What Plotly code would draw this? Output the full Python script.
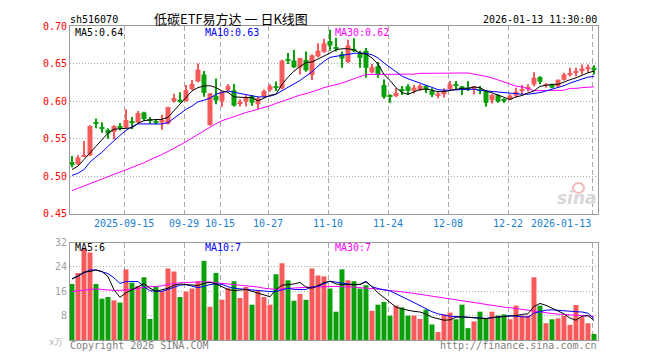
import plotly.graph_objects as go
import pandas as pd

# ---------------- data ----------------
days = pd.bdate_range("2025-09-02", "2026-01-13")
holidays = pd.to_datetime(["2025-10-01", "2025-10-02", "2025-10-03", "2025-10-06",
                           "2025-10-07", "2025-10-08", "2026-01-01", "2026-01-02"])
dates = [d.strftime("%Y-%m-%d") for d in days if d not in holidays]

opens = [0.519, 0.516, 0.527, 0.528, 0.571, 0.565, 0.562, 0.559, 0.567, 0.565,
         0.573, 0.5715, 0.585, 0.5755, 0.573, 0.5715, 0.570, 0.600, 0.602, 0.600,
         0.616, 0.626, 0.6355, 0.568, 0.607, 0.600, 0.615, 0.6145, 0.597, 0.5995,
         0.607, 0.596, 0.6065, 0.615, 0.6195, 0.617, 0.6555, 0.654, 0.645, 0.655,
         0.6346, 0.6595, 0.6655, 0.680, 0.671, 0.6627, 0.6522, 0.6697, 0.664, 0.6671,
         0.6382, 0.6465, 0.6215, 0.607, 0.6066, 0.6154, 0.6197, 0.6136, 0.6154, 0.6206,
         0.6136, 0.6075, 0.6092, 0.6162, 0.6211, 0.6197, 0.618, 0.6158, 0.6149, 0.6136,
         0.6013, 0.6083, 0.6013, 0.6022, 0.6075, 0.6136, 0.6175, 0.6224, 0.632, 0.6206,
         0.6224, 0.6197, 0.6285, 0.6355, 0.6382, 0.6399, 0.6425, 0.6443]
highs = [0.527, 0.528, 0.547, 0.568, 0.577, 0.572, 0.564, 0.568, 0.571, 0.589,
         0.579, 0.587, 0.586, 0.579, 0.576, 0.582, 0.5925, 0.610, 0.612, 0.6215,
         0.628, 0.650, 0.640, 0.611, 0.630, 0.613, 0.623, 0.623, 0.6025, 0.608,
         0.608, 0.6055, 0.6155, 0.6225, 0.626, 0.655, 0.664, 0.668, 0.6575, 0.666,
         0.662, 0.677, 0.683, 0.695, 0.6845, 0.6662, 0.6816, 0.6838, 0.6671, 0.6706,
         0.6496, 0.6522, 0.6289, 0.6092, 0.6171, 0.6202, 0.6224, 0.6215, 0.6224, 0.6215,
         0.6171, 0.6136, 0.6171, 0.6268, 0.6268, 0.6202, 0.6268, 0.6202, 0.6202, 0.6145,
         0.6092, 0.6092, 0.6039, 0.6092, 0.618, 0.6215, 0.6224, 0.6386, 0.6333, 0.6241,
         0.6232, 0.6289, 0.6377, 0.6443, 0.6443, 0.6487, 0.6487, 0.6478]
lows = [0.512, 0.515, 0.526, 0.527, 0.564, 0.558, 0.550, 0.549, 0.561, 0.564,
        0.563, 0.571, 0.574, 0.570, 0.569, 0.562, 0.569, 0.598, 0.598, 0.5995,
        0.615, 0.625, 0.606, 0.5675, 0.596, 0.5925, 0.6135, 0.593, 0.593, 0.593,
        0.594, 0.5895, 0.605, 0.6125, 0.6135, 0.616, 0.6495, 0.644, 0.6355, 0.639,
        0.628, 0.6585, 0.6645, 0.667, 0.666, 0.6443, 0.6509, 0.6654, 0.6443, 0.6311,
        0.6373, 0.6311, 0.6031, 0.5978, 0.6057, 0.6083, 0.6083, 0.6101, 0.6136, 0.611,
        0.6057, 0.6039, 0.6048, 0.6154, 0.6158, 0.6083, 0.6136, 0.6092, 0.6092, 0.5925,
        0.5969, 0.5978, 0.5978, 0.6013, 0.6048, 0.6092, 0.6127, 0.6197, 0.6224, 0.618,
        0.6171, 0.618, 0.6276, 0.6329, 0.6333, 0.6355, 0.6377, 0.6355]
closes = [0.515, 0.525, 0.528, 0.567, 0.570, 0.564, 0.557, 0.567, 0.565, 0.575,
          0.572, 0.584, 0.576, 0.5745, 0.572, 0.575, 0.592, 0.604, 0.600, 0.6145,
          0.623, 0.642, 0.611, 0.6105, 0.601, 0.612, 0.620, 0.594, 0.598, 0.605,
          0.598, 0.604, 0.6135, 0.620, 0.6185, 0.654, 0.6545, 0.645, 0.6575, 0.641,
          0.661, 0.667, 0.677, 0.674, 0.670, 0.6566, 0.6741, 0.6662, 0.6575, 0.6443,
          0.6452, 0.6355, 0.6057, 0.6061, 0.611, 0.6145, 0.6136, 0.618, 0.6206, 0.6154,
          0.6083, 0.6101, 0.6136, 0.6224, 0.6202, 0.6162, 0.6154, 0.6197, 0.614, 0.5978,
          0.6083, 0.5996, 0.6004, 0.6075, 0.6127, 0.6154, 0.6184, 0.6311, 0.6259, 0.6215,
          0.618, 0.6285, 0.6355, 0.6368, 0.639, 0.6434, 0.6452, 0.6417]

ma5 = [0.509, 0.5136, 0.5224, 0.5311, 0.540, 0.5487, 0.5575, 0.5627, 0.5636, 0.5636, 0.5645,
       0.5706, 0.574, 0.575, 0.575, 0.5759, 0.5785, 0.5873, 0.596, 0.6048, 0.6136, 0.618,
       0.6202, 0.6206, 0.618, 0.6136, 0.6118, 0.6057, 0.6048, 0.6048, 0.6048, 0.6004, 0.604,
       0.6079, 0.6092, 0.6224, 0.632, 0.640, 0.646, 0.6513, 0.6522, 0.6557, 0.660, 0.664,
       0.6684, 0.6697, 0.6697, 0.6684, 0.664, 0.6627, 0.6575, 0.6496, 0.6355, 0.6276, 0.618,
       0.6114, 0.6092, 0.6123, 0.6154, 0.6162, 0.6145, 0.6127, 0.6127, 0.6145, 0.6154, 0.6171,
       0.6171, 0.6189, 0.618, 0.6136, 0.611, 0.6083, 0.6057, 0.6022, 0.6057, 0.6075, 0.611,
       0.6136, 0.6197, 0.6215, 0.6224, 0.6224, 0.6259, 0.6285, 0.6311, 0.6346, 0.6377, 0.640]
ma10 = [0.5013, 0.504, 0.509, 0.5189, 0.5259, 0.532, 0.540, 0.5478, 0.5544, 0.561, 0.5662,
        0.5697, 0.5697, 0.5697, 0.5697, 0.5697, 0.5715, 0.5776, 0.5838, 0.589, 0.5934, 0.5991,
        0.6013, 0.604, 0.6092, 0.6114, 0.6136, 0.6118, 0.6101, 0.6083, 0.6066, 0.6057, 0.6057,
        0.6066, 0.6092, 0.6136, 0.618, 0.6224, 0.6276, 0.6333, 0.639, 0.6465, 0.6531, 0.6583,
        0.6596, 0.661, 0.6627, 0.6636, 0.664, 0.6636, 0.6618, 0.6575, 0.6509, 0.6452, 0.639,
        0.6333, 0.6298, 0.6268, 0.6237, 0.6206, 0.618, 0.6154, 0.6145, 0.6145, 0.6149, 0.6154,
        0.6158, 0.6158, 0.6145, 0.6136, 0.6136, 0.6127, 0.6118, 0.611, 0.6101, 0.6092, 0.6092,
        0.6101, 0.6114, 0.6136, 0.6158, 0.618, 0.6206, 0.6241, 0.6268, 0.6289, 0.632, 0.6329]
ma30 = [0.481, 0.484, 0.487, 0.491, 0.494, 0.497, 0.499, 0.502, 0.505, 0.508,
        0.511, 0.515, 0.518, 0.522, 0.525, 0.529, 0.533, 0.537, 0.542, 0.546,
        0.551, 0.556, 0.561, 0.565, 0.570, 0.574, 0.577, 0.580, 0.583, 0.585,
        0.587, 0.589, 0.591, 0.594, 0.597, 0.600, 0.603, 0.606, 0.608, 0.610,
        0.612, 0.615, 0.618, 0.620, 0.621, 0.624, 0.627, 0.630, 0.632, 0.6355,
        0.6355, 0.6355, 0.6355, 0.6355, 0.6355, 0.6355, 0.6355, 0.636, 0.637, 0.637,
        0.637, 0.6375, 0.6375, 0.6375, 0.6375, 0.6375, 0.6375, 0.636, 0.635, 0.633,
        0.631, 0.628, 0.625, 0.622, 0.620, 0.619, 0.616, 0.614, 0.614, 0.614,
        0.614, 0.614, 0.6145, 0.617, 0.617, 0.618, 0.619, 0.619]

volumes = [18.4, 22.0, 30.0, 28.7, 18.4, 13.6, 14.1, 13.0, 12.3, 23.2,
           18.8, 17.7, 20.6, 6.9, 17.7, 16.1, 23.5, 22.5, 14.1, 15.9,
           16.9, 19.3, 26.0, 10.9, 22.0, 13.2, 17.0, 19.3, 13.8, 17.4,
           11.6, 16.3, 14.1, 11.6, 21.6, 25.2, 19.6, 12.9, 15.1, 13.2,
           23.5, 21.2, 20.9, 16.9, 9.3, 23.2, 19.6, 19.3, 16.9, 18.0,
           9.6, 11.6, 12.5, 8.0, 11.3, 10.7, 8.0, 8.0, 6.9, 10.0,
           5.1, 2.6, 8.4, 9.0, 6.8, 11.6, 3.9, 6.1, 9.3, 7.1,
           9.3, 8.0, 8.4, 6.8, 11.3, 8.0, 8.0, 20.6, 11.3, 5.5,
           6.8, 7.1, 8.0, 5.0, 11.5, 7.5, 5.5, 2.0]
vma5 = [20.0, 21.0, 22.3, 22.5, 23.0, 22.5, 20.8, 16.5, 14.0, 15.5,
        16.5, 17.4, 18.5, 17.0, 16.0, 16.5, 17.0, 18.0, 18.4, 18.2,
        18.0, 17.9, 18.6, 19.0, 18.4, 17.5, 16.6, 16.2, 16.3, 16.6,
        16.0, 15.3, 14.8, 14.2, 16.5, 18.0, 18.2, 18.4, 18.9, 17.4,
        17.0, 17.8, 18.8, 19.3, 18.4, 18.2, 18.2, 18.2, 18.2, 19.1,
        17.5, 15.5, 14.0, 12.5, 10.8, 10.2, 9.7, 9.4, 9.2, 8.5,
        7.5, 6.9, 6.5, 6.6, 7.5, 7.6, 7.5, 7.4, 7.2, 7.0,
        7.4, 7.5, 7.6, 7.7, 8.0, 8.4, 8.6, 11.0, 12.0, 11.4,
        10.5, 9.5, 8.6, 7.2, 6.5, 7.8, 8.0, 6.4]
vma10 = [20.1, 21.0, 22.0, 23.0, 23.0, 22.4, 21.8, 20.4, 18.6, 19.2,
         19.3, 19.2, 17.5, 16.2, 16.0, 16.0, 16.6, 17.2, 18.0, 18.2,
         17.6, 17.2, 17.6, 18.2, 18.4, 18.3, 17.5, 17.0, 16.8, 16.6,
         16.5, 16.3, 16.0, 15.9, 15.9, 16.4, 17.0, 16.6, 16.5, 16.6,
         17.4, 17.6, 18.5, 19.3, 19.0, 18.6, 18.4, 18.2, 18.3, 19.3,
         17.5, 16.9, 16.5, 16.1, 15.2, 14.3, 13.3, 12.3, 11.3, 10.3,
         9.3, 8.6, 8.2, 7.8, 7.7, 7.6, 7.5, 7.3, 7.1, 7.1,
         7.3, 7.5, 7.8, 8.0, 7.8, 7.7, 7.5, 8.8, 9.4, 9.8,
         9.9, 9.7, 9.6, 9.4, 9.3, 9.2, 8.8, 7.0]
vma30 = [15.9, 16.1, 16.3, 16.6, 16.8, 16.6, 16.4, 16.3, 16.3, 16.4,
         16.6, 17.0, 17.3, 17.5, 17.6, 17.8, 18.3, 18.6, 18.8, 18.9,
         19.0, 19.1, 19.1, 19.0, 18.8, 18.5, 18.3, 18.1, 18.0, 17.8,
         17.7, 17.4, 17.0, 16.7, 16.6, 16.8, 17.0, 17.1, 17.2, 17.3,
         17.4, 17.4, 17.5, 17.6, 17.6, 17.5, 17.5, 17.4, 17.2, 17.1,
         16.9, 16.7, 16.5, 16.3, 16.1, 15.9, 15.6, 15.3, 15.0, 14.7,
         14.3, 14.0, 13.7, 13.3, 13.0, 12.8, 12.5, 12.2, 11.9, 11.6,
         11.3, 11.0, 10.8, 10.6, 10.3, 10.1, 9.7, 9.4, 9.2, 8.9,
         8.7, 8.5, 8.4, 8.3, 8.1, 8.0, 7.9, 7.8]

tick_dates = ["2025-09-15", "2025-09-29", "2025-10-15", "2025-10-27", "2025-11-10",
              "2025-11-24", "2025-12-08", "2025-12-22", "2026-01-13"]
tick_texts = ["2025-09-15", "09-29", "10-15", "10-27", "11-10",
              "11-24", "12-08", "12-22", "2026-01-13"]
price_ticks = [0.45, 0.50, 0.55, 0.60, 0.65, 0.70]
vol_ticks = [8, 16, 24, 32]

# ---------------- figure ----------------
RED = "#f65a5a"
GREEN = "#0aa00a"
MONO = "DejaVu Sans Mono"

x = list(range(len(dates)))
up = [c >= o for o, c in zip(opens, closes)]
cols = [RED if u else GREEN for u in up]
body_base = [min(o, c) for o, c in zip(opens, closes)]
body_h = [max(abs(c - o), 0.0014) for o, c in zip(opens, closes)]
wick_h = [h - l for h, l in zip(highs, lows)]

fig = go.Figure()
fig.add_trace(go.Bar(x=x, y=wick_h, base=lows, width=0.17, marker=dict(color=cols, line_width=0),
                     xaxis="x", yaxis="y", showlegend=False, hoverinfo="skip"))
fig.add_trace(go.Bar(x=x, y=body_h, base=body_base, width=0.83, marker=dict(color=cols, line_width=0),
                     xaxis="x", yaxis="y", showlegend=False, hoverinfo="skip"))
for arr, c in [(ma30, "#ff00ff"), (ma10, "#0000ff"), (ma5, "#000000")]:
    fig.add_trace(go.Scatter(x=x, y=arr, mode="lines", line=dict(color=c, width=1),
                             xaxis="x", yaxis="y", showlegend=False, hoverinfo="skip"))

fig.add_trace(go.Bar(x=x, y=volumes, width=0.83, marker=dict(color=cols, line_width=0),
                     xaxis="x2", yaxis="y2", showlegend=False, hoverinfo="skip"))
for arr, c in [(vma30, "#ff00ff"), (vma10, "#0000ff"), (vma5, "#000000")]:
    fig.add_trace(go.Scatter(x=x, y=arr, mode="lines", line=dict(color=c, width=1),
                             xaxis="x2", yaxis="y2", showlegend=False, hoverinfo="skip"))

tick_idx = [dates.index(d) for d in tick_dates]
grid_x = [i - 0.27 for i in tick_idx]
xr = [-0.33, len(dates) - 0.33]

# the page body has an 8px margin; positions below are page pixels
OFF = 8
W, H = 660 - OFF, 360 - OFF
L, T = 70 - OFF, 20 - OFF
R = W - (598 - OFF)
B = H - (340 - OFF)
PW, PH = W - L - R, H - T - B


def px(v):
    return (v - OFF - L) / PW


def py(v):
    return (H - B - (v - OFF)) / PH


xcommon = dict(range=xr, showgrid=True, gridcolor="#aaaaaa", griddash="5px,3px", gridwidth=1,
               tickmode="array", tickvals=grid_x, showticklabels=False, ticks="",
               showline=True, linecolor="#999999", linewidth=1, mirror=True, zeroline=False)
fig.update_layout(
    width=W, height=H, autosize=False,
    margin=dict(l=L, r=R, t=T, b=B, pad=0),
    paper_bgcolor="white", plot_bgcolor="white",
    barmode="overlay", showlegend=False,
    xaxis=dict(domain=[0, 1], anchor="y", **xcommon),
    xaxis2=dict(domain=[0, 1], anchor="y2", matches="x", **xcommon),
    yaxis=dict(domain=[py(211.5), 1], range=[0.45, 0.70], tickmode="array", tickvals=price_ticks,
               ticktext=["%.2f" % v for v in price_ticks], tickfont=dict(family=MONO, size=10, color="#ff0000"),
               showgrid=True, gridcolor="#aaaaaa", griddash="1px,2px", ticks="",
               showline=True, linecolor="#999999", linewidth=1, mirror=True, zeroline=False),
    yaxis2=dict(domain=[0, py(240.7)], range=[0, 32], tickmode="array", tickvals=vol_ticks,
                ticktext=[str(v) for v in vol_ticks], tickfont=dict(family=MONO, size=10, color="#a0a0a0"),
                showgrid=True, gridcolor="#aaaaaa", griddash="1px,2px", ticks="",
                showline=True, linecolor="#999999", linewidth=1, mirror=True, zeroline=False),
)

ann = []


def text(t, xp, yp, anchor="left", color="#000000", size=10, family=MONO, **kw):
    ann.append(dict(text=t, x=px(xp), y=py(yp), xref="paper", yref="paper", xanchor=anchor,
                    yanchor="middle", showarrow=False, borderpad=0,
                    font=dict(family=family, size=size, color=color), **kw))


text("sh516070", 69, 13.5)
text("低碳ETF易方达 一 日K线图", 231, 12, anchor="center", size=13, family="Noto Sans CJK SC")
text("2026-01-13 11:30:00", 598, 13.5, anchor="right")
text("MA5:0.64", 74, 27)
text("MA10:0.63", 203.5, 27, color="#0000ff")
text("MA30:0.62", 334, 27, color="#ff00ff")
text("MA5:6", 74, 246)
text("MA10:7", 203.5, 246, color="#0000ff")
text("MA30:7", 334, 246, color="#ff00ff")
text("x万", 64, 342, anchor="right", color="#b0b0b0", size=9)
text("Copyright 2026 SINA.COM", 69, 346, color="#808080")
text("http://finance.sina.com.cn", 598, 346, anchor="right", color="#808080")
text("<b><i>sina</i></b>", 598, 195, anchor="right", color="#d8d8d8", size=17, family="DejaVu Sans")

for i, (gx, t) in enumerate(zip(grid_x, tick_texts)):
    last = i == len(grid_x) - 1
    ann.append(dict(text=t, x=gx, y=py(221.7), xref="x", yref="paper",
                    xanchor="right" if last else "center", yanchor="middle", showarrow=False,
                    borderpad=0, font=dict(family=MONO, size=10, color="#1a80d0")))

fig.update_layout(annotations=ann)
fig.add_shape(type="circle", xref="paper", yref="paper", x0=px(573), x1=px(584), y0=py(190), y1=py(180),
              line=dict(color="#f2b8b8", width=2))

fig.write_html("out.html")
